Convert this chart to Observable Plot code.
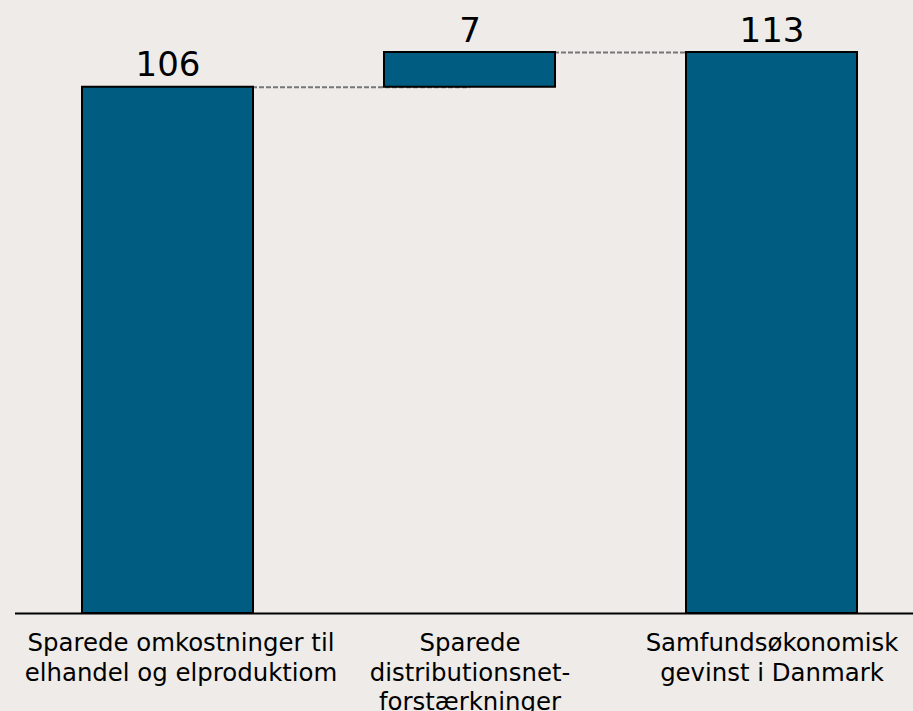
<!DOCTYPE html>
<html>
<head>
<meta charset="utf-8">
<script src="https://cdn.jsdelivr.net/npm/d3@7"></script>
<script src="https://cdn.jsdelivr.net/npm/@observablehq/plot@0.6"></script>
<style>
  html, body { margin: 0; padding: 0; background: #EEEBE8; }
  #chart svg { display: block; }
</style>
</head>
<body>
<div id="chart"></div>
<script>
const categories = ["omk", "dist", "total"];
const labels = [
  "Sparede omkostninger til\nelhandel og elproduktiom",
  "Sparede\ndistributionsnet-\nforstærkninger",
  "Samfundsøkonomisk\ngevinst i Danmark"
];
const values = [106, 7, 113];
const starts = [0, 106, 0];

const rows = categories.map((c, i) => ({
  cat: c,
  label: labels[i],
  value: values[i],
  y1: starts[i],
  y2: starts[i] + values[i]
}));
const links = rows.slice(0, -1).map((r, i) => ({
  from: r.cat,
  to: rows[i + 1].cat,
  level: r.y2
}));
const labelOf = new Map(rows.map(r => [r.cat, r.label]));

const axisOpts = {
  tickSize: 0, tickPadding: 17, fontSize: 24.4, lineHeight: 1.2,
  lineAnchor: "top", tickFormat: c => labelOf.get(c), label: null, fill: "black"
};

const chart = Plot.plot({
  width: 913,
  height: 711,
  marginTop: 52,
  marginBottom: 98,
  marginLeft: 15,
  marginRight: 0,
  style: { background: "#EEEBE8", color: "black", fontFamily: "DejaVu Sans" },
  x: { domain: categories, paddingInner: 0.435, paddingOuter: 0.2018, align: 0.541, label: null },
  y: { domain: [0, 113], axis: null },
  marks: [
    Plot.link(links, {
      x1: "from", x2: "to", y1: "level", y2: "level",
      stroke: "#777777", strokeWidth: 2, strokeDasharray: "5,2"
    }),
    Plot.barY(rows, {
      x: "cat", y1: "y1", y2: "y2",
      fill: "#005C80", stroke: "black", strokeWidth: 2
    }),
    Plot.ruleY([0], { stroke: "black", strokeWidth: 2 }),
    Plot.text(rows, {
      x: "cat", y: "y2", text: d => String(d.value),
      lineAnchor: "bottom", dy: -11, fontSize: 34, fill: "black"
    }),
    Plot.axisX(categories.slice(0, 1), { ...axisOpts, dx: 13 }),
    Plot.axisX(categories.slice(1), axisOpts)
  ]
});
document.getElementById("chart").append(chart);
</script>
</body>
</html>
